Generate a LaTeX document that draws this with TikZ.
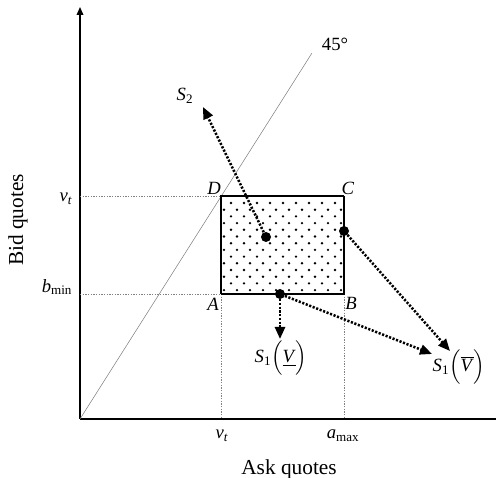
\documentclass[tikz,border=0pt]{standalone}
\usepackage{fontspec}
\usepackage{amsmath}
\setmainfont{Liberation Serif}
\usetikzlibrary{arrows.meta}

\tikzset{
  axis/.style={line width=1pt},
  guide/.style={gray, line width=0.4pt, dash pattern=on 1pt off 1pt},
  move/.style={line width=1.9pt, dash pattern=on 1.6pt off 1.2pt, -{Triangle[length=9pt,width=7.5pt]}},
  quote/.style={circle, fill, inner sep=0pt, minimum size=7.5pt},
  lab/.style={font=\fontsize{14}{16}\selectfont, inner sep=0pt},
  title/.style={font=\fontsize{16}{19}\selectfont, inner sep=0pt},
}

\begin{document}
\begin{tikzpicture}[x=0.75pt, y=0.75pt]
    \useasboundingbox (0,0) rectangle (496,478);

    % Define the points of the axes
    \coordinate (O) at (80,59);
    \coordinate (Ytop) at (80,471);
    \coordinate (Xend) at (496,59);
    \coordinate (Diag) at (312,425);

    % Define the corners of the box
    \coordinate (A) at (221,184);
    \coordinate (B) at (344,184);
    \coordinate (C) at (344,282);
    \coordinate (D) at (221,282);

    % Fill the box with dots
    \foreach \j in {0,2,...,12}
        \foreach \x in {231,244,...,335}
            \fill (\x,{275-6.7*\j}) circle (1pt);
    \foreach \j in {1,3,...,13}
        \foreach \x in {224,237,...,341}
            \fill (\x,{275-6.7*\j}) circle (1pt);

    % Draw the axes and the 45 degree line
    \draw[axis, -{Triangle[length=6pt,width=5pt]}] (O) -- (Ytop);
    \draw[axis] (O) -- (Xend);
    \draw[gray, line width=0.4pt] (O) -- (Diag);

    % Draw the guide lines
    \draw[guide] (O |- D) -- (D);
    \draw[guide] (O |- A) -- (A);
    \draw[guide] (A) -- (A |- O);
    \draw[guide] (B) -- (B |- O);

    % Draw the box
    \draw[line width=0.8pt] (A) -- (D) -- (C);
    \draw[line width=2pt] (C) -- (B) -- (A);

    % Place the quotes
    \node[quote] (P) at (266,241) {};
    \node[quote] (Q) at (344,247) {};
    \node[quote] (R) at (280,184) {};

    % Draw the moves
    \coordinate (S2tip) at (203,371);
    \coordinate (Vbartip) at (450,127);
    \coordinate (Vlowtip) at (280,139);
    \coordinate (Vbartwo) at (432,124);
    \draw[move] (P) -- (S2tip);
    \draw[move] (Q) -- (Vbartip);
    \draw[move] (R) -- (Vlowtip);
    \draw[move] (R) -- (Vbartwo);

    % Place the labels
    \node[lab] (labD) at (214,290) {\textit{D}};
    \node[lab] (labC) at (348,290) {\textit{C}};
    \node[lab] (labA) at (213,174) {\textit{A}};
    \node[lab] (labB) at (351,175) {\textit{B}};
    \node[lab] (labS2) at (185,382) {\textit{S}\textsubscript{2}};
    \node[lab] (labVlow) at (281,120) {\textit{S}\textsubscript{1}$\Bigl(\underline{\mbox{\textit{V}}}\Bigr)$};
    \node[lab] (labVbar) at (459,111) {\textit{S}\textsubscript{1}$\Bigl(\overline{\mbox{\textit{V}}}\Bigr)$};
    \node[lab] (lab45) at (335,434) {45°};

    % Place the axis values
    \node[lab] (yvt) at (66,279) {\textit{v}\textsubscript{\textit{t}}};
    \node[lab] (ybmin) at (57,191) {\textit{b}\textsubscript{min}};
    \node[lab] (xvt) at (222,42) {\textit{v}\textsubscript{\textit{t}}};
    \node[lab] (xamax) at (343,42) {\textit{a}\textsubscript{max}};

    % Place the axis titles
    \node[title] (xtitle) at (289,9) {Ask quotes};
    \node[title, rotate=90] (ytitle) at (18,258) {Bid quotes};

\end{tikzpicture}
\end{document}
